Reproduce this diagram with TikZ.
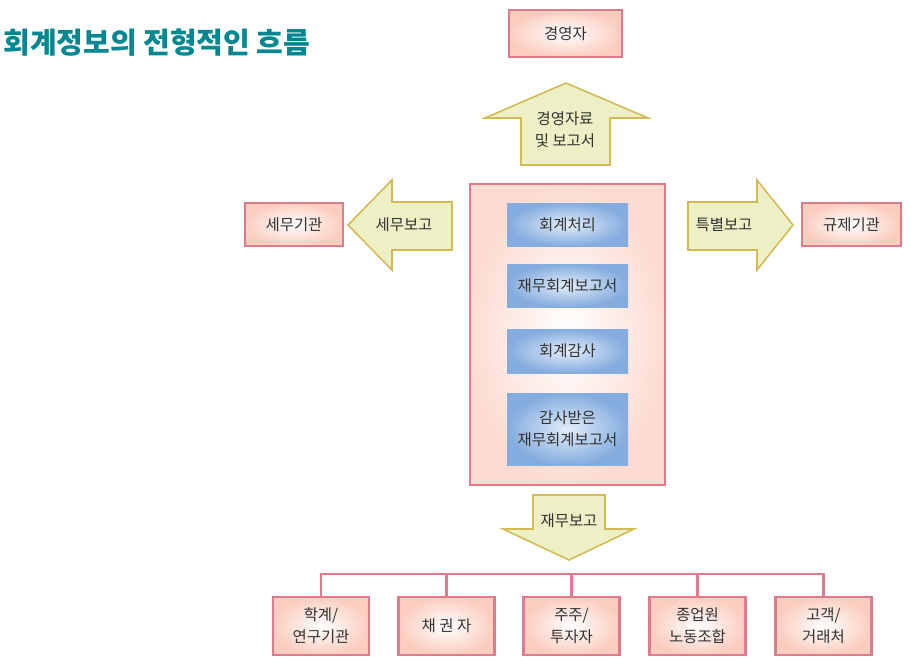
\documentclass[tikz,border=0pt]{standalone}
\usepackage{fontspec}
\setmainfont{Noto Sans CJK KR}
\usepackage{xcolor}
\definecolor{fltitle}{RGB}{0,135,145}
\definecolor{flpink}{RGB}{226,122,142}
\definecolor{flsalmon}{RGB}{250,196,180}
\definecolor{flblue}{RGB}{132,172,222}
\definecolor{flbluein}{RGB}{226,237,250}
\definecolor{flarrow}{RGB}{236,240,196}
\definecolor{flgold}{RGB}{212,186,84}
\definecolor{fltext}{RGB}{50,50,50}
\usetikzlibrary{positioning}

\begin{document}
\begin{tikzpicture}[x=0.02cm, y=-0.02cm,
  party/.style={draw=flpink, line width=1.2pt, inner color=white, outer color=flsalmon!85,
    align=center, font=\fontsize{8.8}{12.5}\selectfont, text=fltext, inner sep=0pt},
  task/.style={inner color=flbluein, outer color=flblue, minimum width=121*0.02cm,
    align=center, font=\fontsize{8.8}{12.5}\selectfont, text=fltext, inner sep=0pt},
  flow/.style={draw=flgold, line width=0.9pt, fill=flarrow, line join=miter},
  flowtext/.style={align=center, font=\fontsize{8.8}{12.5}\selectfont, text=fltext},
  link/.style={draw=flpink, line width=1.2pt}]
  \useasboundingbox (0,0) rectangle (911,666);

  %% Title
  \node[anchor=west, inner sep=0pt, font=\fontsize{16.5}{18}\selectfont\bfseries, text=fltitle] (title) at (3,43) {회계정보의 전형적인 흐름};

  %% Top: management
  \node[party, minimum width=113*0.02cm, minimum height=47*0.02cm] (exec) at (565.5,33.5) {경영자};
  \path[flow] (521,165) -- (521,118) -- (485,118) -- (566,83) -- (648,118) -- (610,118) -- (610,165) -- cycle;
  \node[flowtext] (uplbl) at (565,130) {경영자료\\및 보고서};

  %% Centre: accounting process
  \node[draw=flpink, line width=1.2pt, inner color=white, outer color=flsalmon!60, minimum width=195*0.02cm, minimum height=301*0.02cm] (core) at (567.5,334.5) {};
  \node[task, minimum height=43*0.02cm] (proc) at (567.5,224.5) {회계처리};
  \node[task, minimum height=43*0.02cm] (fsrep) at (567.5,285.5) {재무회계보고서};
  \node[task, minimum height=44*0.02cm] (audit) at (567.5,351) {회계감사};
  \node[task, minimum height=72*0.02cm] (audrep) at (567.5,429) {감사받은\\재무회계보고서};

  %% Left: tax
  \path[flow] (452,202) -- (392,202) -- (392,180) -- (348,225) -- (392,270) -- (392,250) -- (452,250) -- cycle;
  \node[flowtext] (taxlbl) at (404,225) {세무보고};
  \node[party, minimum width=98*0.02cm, minimum height=43*0.02cm] (tax) at (294,224.5) {세무기관};

  %% Right: regulators
  \path[flow] (688,202) -- (757,202) -- (757,180) -- (793,225) -- (757,270) -- (757,250) -- (688,250) -- cycle;
  \node[flowtext] (speclbl) at (724,225) {특별보고};
  \node[party, minimum width=99*0.02cm, minimum height=43*0.02cm] (reg) at (851.5,224.5) {규제기관};

  %% Bottom: external users
  \path[flow] (533,495) -- (605,495) -- (605,529) -- (634,529) -- (569,560) -- (503,529) -- (533,529) -- cycle;
  \node[flowtext] (finlbl) at (569,521) {재무보고};

  \node[party, minimum width=96*0.02cm, minimum height=58*0.02cm] (acad) at (321,626) {학계/\\연구기관};
  \node[party, minimum width=96*0.02cm, minimum height=58*0.02cm] (cred) at (446.5,626) {채 권 자};
  \node[party, minimum width=96*0.02cm, minimum height=58*0.02cm] (share) at (571.5,626) {주주/\\투자자};
  \node[party, minimum width=96*0.02cm, minimum height=58*0.02cm] (union) at (697.5,626) {종업원\\노동조합};
  \node[party, minimum width=96*0.02cm, minimum height=58*0.02cm] (cust) at (823.5,626) {고객/\\거래처};

  \coordinate (bus) at (571.5,574);
  \draw[link] (acad.north) |- (bus) -| (cust.north);
  \draw[link] (cred.north) -- (cred.north |- bus);
  \draw[link] (share.north) -- (bus);
  \draw[link] (union.north) -- (union.north |- bus);
\end{tikzpicture}
\end{document}
